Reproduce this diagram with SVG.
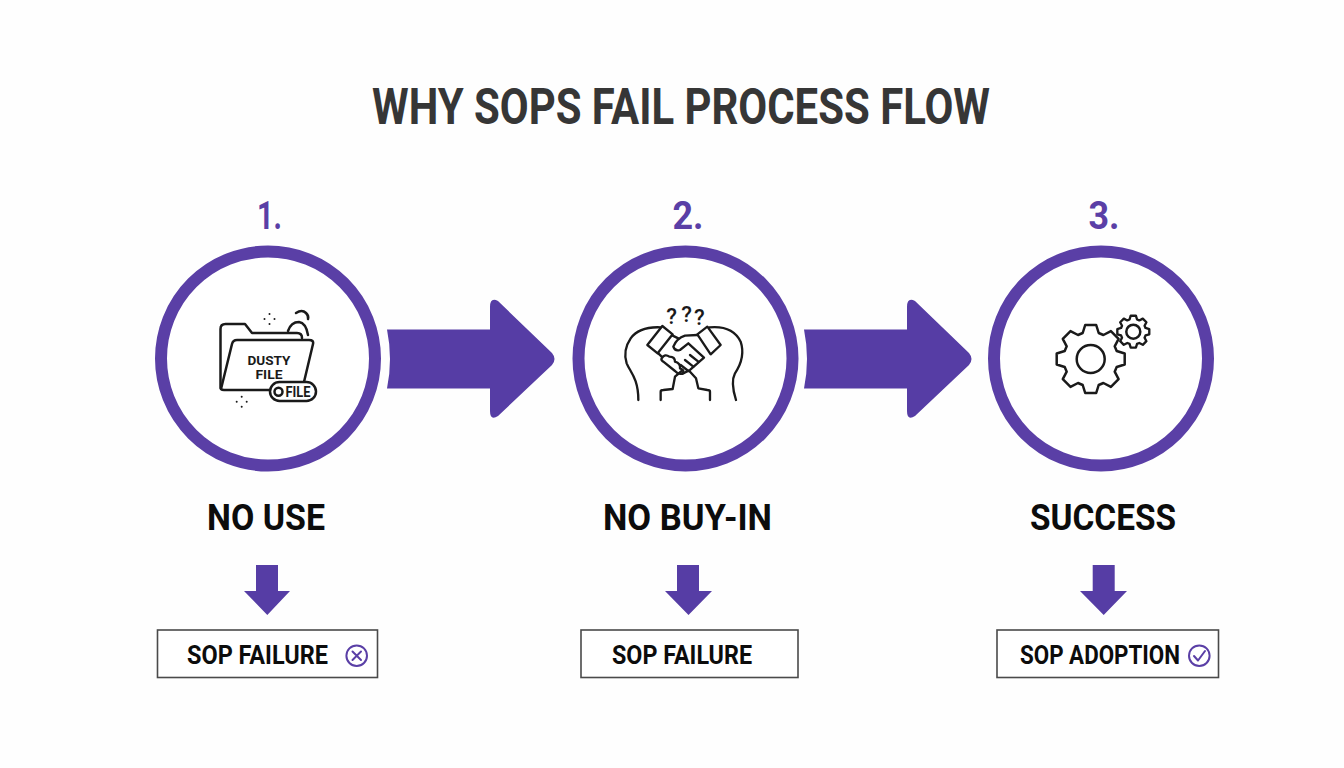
<svg xmlns="http://www.w3.org/2000/svg" width="1344" height="768" viewBox="0 0 1344 768">
<style>
text{font-family:Roboto,"Liberation Sans",sans-serif;font-weight:700;text-anchor:middle}
.title{font-size:50px;fill:#363636}
.num{font-size:38px;fill:#5a3fa6}
.label{font-size:37px;fill:#0c0c0c}
.out{font-size:25px;fill:#0c0c0c}
.ring{fill:#fff;stroke:#5a3fa6;stroke-width:12}
.flow{fill:#563da5}
.down{fill:#563da5}
.box{fill:#fff;stroke:#4a4a4a;stroke-width:1.6}
.ico{fill:none;stroke:#1a1a1a;stroke-width:2.5;stroke-linecap:round;stroke-linejoin:round}
.hand{stroke-width:7}
.st{fill:none;stroke:#5a3fa6;stroke-width:2;stroke-linecap:round;stroke-linejoin:round}
.dot{fill:#1a1a1a}
</style>
<defs>
<path id="gear" d="M-8-26L-5.500-34L5.500-34L8-26L12.700-24L20.200-27.900L27.900-20.200L24-12.700L26-8L34-5.500L34 5.500L26 8L24 12.700L27.900 20.200L20.200 27.900L12.700 24L8 26L5.500 34L-5.500 34L-8 26L-12.700 24L-20.200 27.900L-27.900 20.200L-24 12.700L-26 8L-34 5.500L-34-5.500L-26-8L-24-12.700L-27.900-20.200L-20.200-27.900L-12.700-24Z"/>
<path id="bigarrow" d="M387 329.500H490V307Q490 297 498 301L552 353Q557 359 552 365L498 416Q490 421 490 411V388.500H387Q393 359 387 329.500Z"/>
<g id="sparkle" class="dot"><circle cx="0" cy="-5" r="1"/><circle cx="0" cy="5" r="1"/><circle cx="-5" cy="0" r="1"/><circle cx="5" cy="0" r="1"/></g>
</defs>
<rect width="1344" height="768" fill="#fefefe"/>
<text class="title" x="681" y="124" textLength="618" lengthAdjust="spacingAndGlyphs">WHY SOPS FAIL PROCESS FLOW</text>
<g id="connectors">
<use href="#bigarrow" class="flow"/>
<use href="#bigarrow" class="flow" x="417"/>
<path class="down" d="M256 565H278V591H290L267.300 615L244 591H256Z"/>
<path class="down" d="M677 565H699V591H712L688.500 615L665 591H677Z"/>
<path class="down" d="M1092.700 565H1114.700V591H1127L1103.700 615L1080 591H1092.700Z"/>
</g>
<g id="node1">
<text class="num" x="269.500" y="229" textLength="25" lengthAdjust="spacingAndGlyphs">1.</text>
<circle class="ring" cx="268" cy="358.500" r="107"/>
<g class="ico">
<path d="M220.500 388V329Q220.500 324 225.500 324H245L252 333H297Q302 333 302 338"/>
<path d="M221 389L232 344Q233 340 237 340H309Q314 340 313 344L304 382M221 389Q222 390 224 390H270"/>
<path d="M288 331Q291 322 299 322Q306 323 308 335M296 313Q302 309 306 313Q309 316 308 319"/>
<rect x="270" y="382" width="46" height="19" rx="9.500" fill="#fff"/>
<circle cx="278.500" cy="391.700" r="4"/>
</g>
<use href="#sparkle" x="269.500" y="319"/>
<use href="#sparkle" x="241.700" y="401.700"/>
<text x="269" y="364.500" font-size="13.500" fill="#1a1a1a" textLength="43" lengthAdjust="spacingAndGlyphs">DUSTY</text>
<text x="269" y="378.500" font-size="13.500" fill="#1a1a1a" textLength="27" lengthAdjust="spacingAndGlyphs">FILE</text>
<text x="298" y="397" font-size="14" fill="#1a1a1a" textLength="25" lengthAdjust="spacingAndGlyphs">FILE</text>
<text class="label" x="266" y="530" textLength="118" lengthAdjust="spacingAndGlyphs">NO USE</text>
<rect class="box" x="157.500" y="630" width="220" height="47.500"/>
<text class="out" x="257.500" y="664" textLength="141" lengthAdjust="spacingAndGlyphs">SOP FAILURE</text>
<circle class="st" cx="356.700" cy="655.700" r="10.300"/>
<path class="st" d="M352.500 651.500L361 660M361 651.500L352.500 660"/>
</g>
<g id="node2">
<text class="num" x="688" y="229" textLength="31" lengthAdjust="spacingAndGlyphs">2.</text>
<circle class="ring" cx="685.500" cy="358.500" r="107"/>
<g class="ico hand" transform="translate(610 295) scale(.3333)">
<path d="M152 97C110 95 80 105 62 130C45 155 42 180 50 205C60 230 85 250 85 315"/>
<path d="M298 97C340 93 375 105 392 140C402 170 395 205 375 235C362 260 370 290 378 315"/>
<path d="M152 315V290Q152 285 160 285L188 282L195 245L215 228"/>
<path d="M300 315V290Q300 285 292 285L265 280L258 250L238 228"/>
<path d="M157 93L188 118L143 175L112 150Z"/>
<path d="M292 95L332 150L302 178L262 118Z"/>
<path d="M188 122L205 130M262 120L225 122Q200 130 190 155Q195 170 210 165L235 145L282 188L240 225L218 236M145 175L155 185"/>
<path d="M155 190Q165 175 178 185Q195 185 195 200Q212 205 210 220Q225 225 218 235Q205 240 195 228L160 200Q152 195 155 190Z"/>
<path d="M225 195L250 215M240 180L265 200M212 210L235 228"/>
</g>
<text x="671.700 686.700 699.300" y="324 321.500 325" font-size="22" fill="#1a1a1a" style="font-weight:500">???</text>
<text class="label" x="687.500" y="530" textLength="169" lengthAdjust="spacingAndGlyphs">NO BUY-IN</text>
<rect class="box" x="581" y="630" width="217" height="47.500"/>
<text class="out" x="682" y="664" textLength="140" lengthAdjust="spacingAndGlyphs">SOP FAILURE</text>
</g>
<g id="node3">
<text class="num" x="1104" y="229" textLength="31" lengthAdjust="spacingAndGlyphs">3.</text>
<circle class="ring" cx="1101" cy="358.500" r="107"/>
<g class="ico">
<use href="#gear" x="1090.700" y="359"/>
<circle cx="1090.700" cy="359" r="14"/>
<use href="#gear" transform="translate(1133.300 331.700) scale(.47)" stroke-width="5"/>
<circle cx="1133.300" cy="331.700" r="7"/>
</g>
<text class="label" x="1103" y="530" textLength="146" lengthAdjust="spacingAndGlyphs">SUCCESS</text>
<rect class="box" x="997" y="630" width="221.500" height="47.500"/>
<text class="out" x="1100" y="664" textLength="160" lengthAdjust="spacingAndGlyphs">SOP ADOPTION</text>
<circle class="st" cx="1199.300" cy="655.700" r="10.300"/>
<path class="st" d="M1194 656L1198 660.500L1205 651"/>
</g>
</svg>
